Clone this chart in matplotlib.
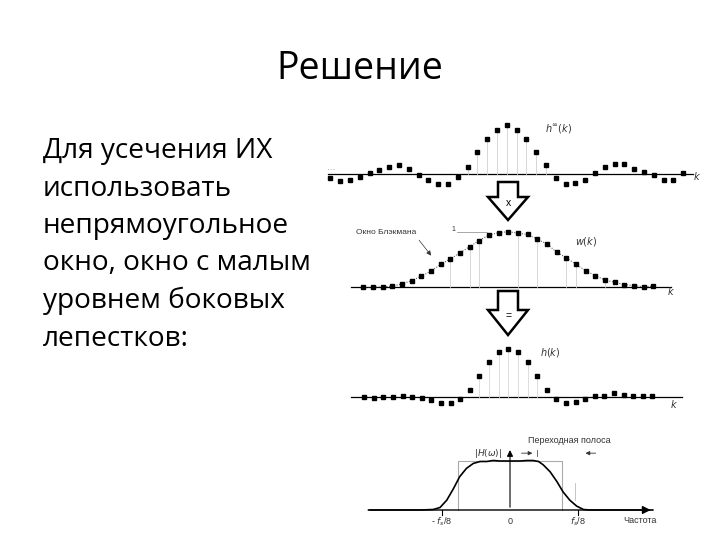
import numpy as np
import matplotlib.pyplot as plt
from matplotlib.patches import Polygon

plt.rcParams['font.family'] = ['Open Sans', 'DejaVu Sans']

W, H = 720, 540

title = 'Решение'
body_lines = ['Для усечения ИХ', 'использовать', 'непрямоугольное',
              'окно, окно с малым', 'уровнем боковых', 'лепестков:']

# ideal (infinite) impulse response, k = -18..18
k_inf = np.arange(-18, 19)
h_inf = [-0.07, -0.14, -0.12, -0.05, 0.02, 0.09, 0.15, 0.18, 0.11, -0.02,
         -0.12, -0.20, -0.19, -0.05, 0.15, 0.45, 0.71, 0.90, 1.00, 0.90,
         0.71, 0.45, 0.18, -0.07, -0.19, -0.18, -0.12, 0.02, 0.14, 0.21,
         0.20, 0.11, 0.05, -0.02, -0.11, -0.11, 0.02]

# Blackman window, k = -15..15
k_win = np.arange(-15, 16)
w_win = [0.0, 0.0, 0.01, 0.02, 0.06, 0.12, 0.20, 0.29, 0.41, 0.51, 0.62,
         0.73, 0.84, 0.94, 0.98, 1.00, 0.97, 0.95, 0.86, 0.78, 0.63, 0.53,
         0.41, 0.30, 0.21, 0.13, 0.09, 0.05, 0.03, 0.01, 0.02]

# windowed impulse response, k = -15..15
h_win = [0.0, -0.01, 0.0, 0.01, 0.02, 0.0, -0.01, -0.05, -0.12, -0.12,
         -0.03, 0.16, 0.44, 0.73, 0.92, 1.00, 0.92, 0.73, 0.44, 0.16,
         -0.03, -0.12, -0.10, -0.03, 0.02, 0.02, 0.08, 0.04, 0.03, 0.03, 0.02]

# frequency response, frequency in units of fs/8
freq = [-2.08, -1.32, -1.13, -1.03, -0.93, -0.83, -0.74, -0.64, -0.54, -0.44,
        -0.34, -0.25, -0.15, 0.0, 0.15, 0.25, 0.34, 0.42, 0.49, 0.59, 0.69,
        0.78, 0.88, 0.98, 1.08, 1.18, 2.1]
mag = [0, 0, 0.01, 0.05, 0.20, 0.44, 0.68, 0.85, 0.95, 0.99, 0.99, 1.01,
       1.0, 1.0, 1.0, 1.01, 1.01, 0.99, 0.92, 0.78, 0.58, 0.37, 0.20, 0.08,
       0.01, 0, 0]
ideal_edge = 0.76
freq_ticks = [-1, 0, 1]
freq_labels = ['- $f_s$/8', '0', '$f_s$/8']

fig = plt.figure(figsize=(7.2, 5.4), dpi=100)


def panel(box, x0, dx, y0, dy):
    # box in pixels (left, top, right, bottom); x0,y0 = pixel of data origin
    left, top, right, bottom = box
    ax = fig.add_axes([left / W, 1 - bottom / H, (right - left) / W, (bottom - top) / H])
    ax.set_xlim((left - x0) / dx, (right - x0) / dx)
    ax.set_ylim((y0 - bottom) / dy, (y0 - top) / dy)
    ax.axis('off')
    return ax


# slide text
fig.text(360 / W, 1 - 79 / H, title, fontsize=27, ha='center', va='baseline')
for i, line in enumerate(body_lines):
    fig.text(43 / W, 1 - (158 + 37.5 * i) / H, line, fontsize=20.2,
             ha='left', va='baseline')

tc = '#333333'
tfont = ['Liberation Sans', 'DejaVu Sans']

# panel 1: ideal impulse response
ax1 = panel((320, 110, 705, 195), 506.7, 9.8, 174.3, 49.3)
ax1.axhline(0, 0.02, 0.97, color='k', lw=0.9)
for k, v in zip(k_inf, h_inf):
    if abs(k) <= 4:
        ax1.plot([k, k], [0, v], color='#d0d0d0', lw=0.6)
ax1.plot(k_inf, h_inf, 's', color='k', ms=2.8)
ax1.text(-18.3, 0.05, '···', fontsize=6, color='#888888', family=tfont)
ax1.text(3.9, 0.86, r'$h^{\infty}(k)$', fontsize=7, color=tc)
ax1.text(19.0, -0.12, '$k$', fontsize=7, color=tc)

# panel 2: Blackman window
ax2 = panel((340, 215, 700, 300), 508.3, 9.67, 287.3, 55.7)
ax2.axhline(0, 0.03, 0.92, color='k', lw=0.9)
for k, v in zip(k_win, w_win):
    if k in (-6, -4, -3, 1, 3, 6, 7, 10):
        ax2.plot([k, k], [0, v], color='#d0d0d0', lw=0.6)
ax2.plot(k_win, w_win, ':', color='#444444', lw=0.7)
ax2.plot(k_win, w_win, 's', color='k', ms=2.8)
ax2.plot([-5.3, -2.2], [0.99, 0.99], color='#999999', lw=0.6)
ax2.text(-5.7, 1.03, '1', fontsize=5, color=tc, ha='center', va='center', family=tfont)
ax2.text(-15.8, 0.99, 'Окно Блэкмана', fontsize=6, color=tc, va='center', family=tfont)
ax2.annotate('', xy=(-7.8, 0.53), xytext=(-9.4, 0.885),
             arrowprops=dict(arrowstyle='-|>', color='#333333', lw=0.5,
                             mutation_scale=7))
ax2.text(6.9, 0.83, '$w(k)$', fontsize=7, color=tc, va='center')
ax2.text(16.4, -0.08, '$k$', fontsize=7, color=tc, va='center')

# panel 3: windowed impulse response
ax3 = panel((340, 335, 700, 420), 508.3, 9.61, 397.3, 48.7)
ax3.axhline(0, 0.03, 0.95, color='k', lw=0.9)
for k, v in zip(k_win, h_win):
    if abs(k) <= 3:
        ax3.plot([k, k], [0, v], color='#d8d8d8', lw=0.6)
ax3.plot(k_win, h_win, 's', color='k', ms=2.8)
ax3.text(3.3, 0.91, '$h(k)$', fontsize=7, color=tc, va='center')
ax3.text(16.8, -0.16, '$k$', fontsize=7, color=tc, va='center')

# panel 4: frequency response
ax4 = panel((350, 430, 700, 535), 510, 68, 510, 49)
ax4.plot([-ideal_edge, -ideal_edge, ideal_edge, ideal_edge], [0, 1.0, 1.0, 0],
         color='#aaaaaa', lw=0.8)
ax4.plot([0.96, 0.96], [0.2, 0.55], color='#bbbbbb', lw=0.6)
ax4.annotate('', xy=(2.11, 0), xytext=(-2.1, 0),
             arrowprops=dict(arrowstyle='-|>', color='k', lw=1.0, mutation_scale=12))
ax4.annotate('', xy=(0, 1.28), xytext=(0, 0),
             arrowprops=dict(arrowstyle='-|>', color='k', lw=0.8, mutation_scale=9))
ax4.plot(freq, mag, color='k', lw=1.2)
for f, lab in zip(freq_ticks, freq_labels):
    if f != 0:
        ax4.plot([f, f], [0, -0.1], color='k', lw=0.8)
    ax4.text(f, -0.24, lab, fontsize=6.5, color=tc, ha='center', va='center', family=tfont)
ax4.text(1.66, -0.21, 'Частота', fontsize=6.5, color=tc, ha='left', va='center', family=tfont)
ax4.text(-0.12, 1.16, r'$|H(\omega)|$', fontsize=6.5, color=tc, ha='right', va='center')
ax4.text(0.27, 1.41, 'Переходная полоса', fontsize=6.5, color=tc, ha='left',
         va='center', family=tfont)
ax4.annotate('', xy=(0.37, 1.16), xytext=(0.13, 1.16),
             arrowprops=dict(arrowstyle='-|>', color='#333333', lw=0.6, mutation_scale=6))
ax4.plot([0.40, 0.40], [1.10, 1.23], color='#555555', lw=0.6)
ax4.annotate('', xy=(1.07, 1.16), xytext=(1.30, 1.16),
             arrowprops=dict(arrowstyle='-|>', color='#333333', lw=0.6, mutation_scale=6))

# big hollow arrows between the panels
ax0 = fig.add_axes([0, 0, 1, 1], zorder=5)
ax0.set_xlim(0, W)
ax0.set_ylim(H, 0)
ax0.axis('off')
for top, neck, tip, sym in [(182, 197, 220, 'x'), (291, 310, 335, '=')]:
    shape = [(498, top), (518, top), (518, neck), (528, neck), (508, tip),
             (488, neck), (498, neck)]
    ax0.add_patch(Polygon(shape, closed=True, facecolor='white',
                          edgecolor='k', lw=1.8, joinstyle='miter'))
    ax0.text(508, neck + 6, sym, fontsize=7.5, ha='center', va='center', family=tfont)

fig.savefig('out.png', dpi=100)
